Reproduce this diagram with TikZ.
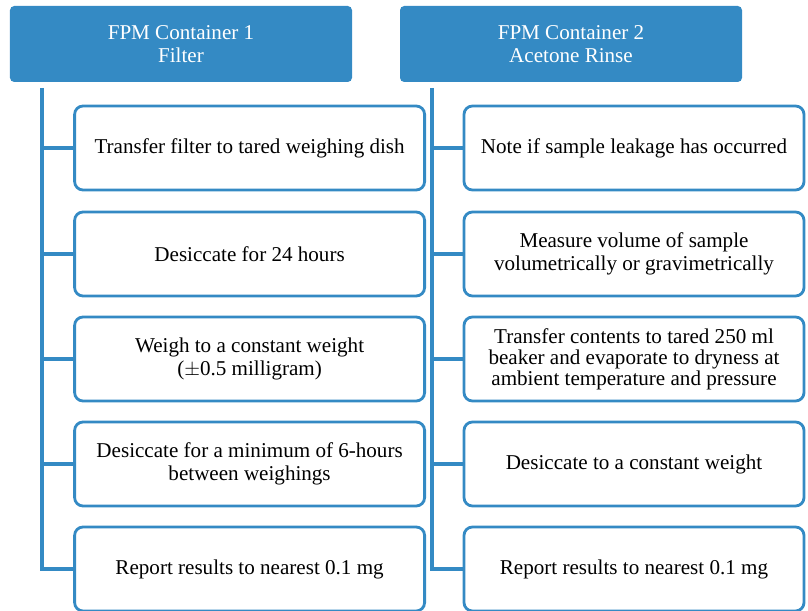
\documentclass[tikz,border=0pt]{standalone}
\usepackage{fontspec}
\setmainfont{Liberation Serif}
\definecolor{fpmblue}{RGB}{52,138,196}

\begin{document}
\begin{tikzpicture}[
  head/.style={rectangle,rounded corners=3pt,fill=fpmblue,text=white,
    minimum width=8.55cm,minimum height=1.9cm,align=center,
    font=\fontsize{15}{16}\selectfont},
  stepbox/.style={rectangle,rounded corners=6pt,draw=fpmblue,line width=2pt,
    fill=white,minimum height=2.1cm,align=center,
    font=\fontsize{15}{16.5}\selectfont},
  trunk/.style={draw=fpmblue,line width=2.6pt}]
  \useasboundingbox (0,0) rectangle (20.2,-15.275);

  \node[head] (h1) at (4.525,-1.1) {FPM Container 1\\Filter};
  \node[head] (h2) at (14.275,-1.1) {FPM Container 2\\Acetone Rinse};

  \coordinate (t1) at (1.05,-2.2);
  \coordinate (t2) at (10.8,-2.2);

  \node[stepbox,minimum width=8.75cm] (b11) at (6.24,-3.7) {Transfer filter to tared weighing dish};
  \node[stepbox,minimum width=8.75cm] (b12) at (6.24,-6.35) {Desiccate for 24 hours};
  \node[stepbox,minimum width=8.75cm] (b13) at (6.24,-8.975) {Weigh to a constant weight\\(\(\pm\)0.5 milligram)};
  \node[stepbox,minimum width=8.75cm] (b14) at (6.24,-11.6) {Desiccate for a minimum of 6-hours\\between weighings};
  \node[stepbox,minimum width=8.75cm] (b15) at (6.24,-14.225) {Report results to nearest 0.1 mg};

  \node[stepbox,minimum width=8.5cm] (b21) at (15.85,-3.7) {Note if sample leakage has occurred};
  \node[stepbox,minimum width=8.5cm] (b22) at (15.85,-6.35) {Measure volume of sample\\volumetrically or gravimetrically};
  \node[stepbox,minimum width=8.5cm,font=\fontsize{15}{15}\selectfont] (b23) at (15.85,-8.975) {Transfer contents to tared 250 ml\\beaker and evaporate to dryness at\\ambient temperature and pressure};
  \node[stepbox,minimum width=8.5cm] (b24) at (15.85,-11.6) {Desiccate to a constant weight};
  \node[stepbox,minimum width=8.5cm] (b25) at (15.85,-14.225) {Report results to nearest 0.1 mg};

  \draw[trunk] (t1) |- (b15.west);
  \draw[trunk] (t2) |- (b25.west);
  \foreach \i in {1,...,4} {
    \draw[trunk] (t1 |- b1\i.west) -- (b1\i.west);
    \draw[trunk] (t2 |- b2\i.west) -- (b2\i.west);
  }
\end{tikzpicture}
\end{document}
